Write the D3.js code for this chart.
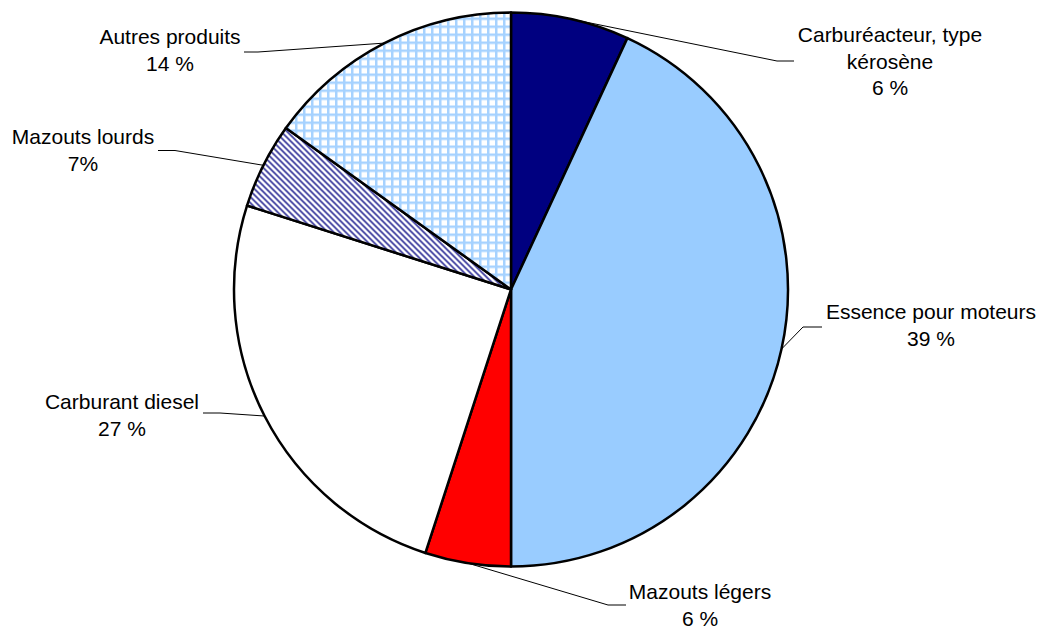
<!DOCTYPE html>
<html>
<head>
<meta charset="utf-8">
<script src="https://cdn.jsdelivr.net/npm/d3@7"></script>
<style>
  body { margin: 0; background: #fff; }
  text { font-family: "Liberation Sans", Arial, sans-serif; font-size: 21px; fill: #000; }
</style>
</head>
<body>
<svg id="chart"></svg>
<script>
const width = 1040, height = 629;

// data
const categories = ["Carburéacteur, type kérosène", "Essence pour moteurs", "Mazouts légers",
    "Carburant diesel", "Mazouts lourds", "Autres produits"];
const shares = [6.9, 43.1, 5.0, 24.9, 5.0, 15.1];           // slice sizes as drawn
const shareLabels = ["6 %", "39 %", "6 %", "27 %", "7%", "14 %"]; // printed labels
const labelLines = [
    ["Carburéacteur, type", "kérosène"],
    ["Essence pour moteurs"],
    ["Mazouts légers"],
    ["Carburant diesel"],
    ["Mazouts lourds"],
    ["Autres produits"]
];

// layout
const cx = 511, cy = 289.5, radius = 277;
const fills = ["#000080", "#99ccff", "#ff0000", "#ffffff", "url(#hatch)", "url(#grid)"];
// label block: center x, first baseline; leader: elbow point and end point
const labelPos = [
    { x: 890, y: 42, elbow: [777, 61], end: [794, 61] },
    { x: 931, y: 319, elbow: [803, 327], end: [822, 327] },
    { x: 700, y: 599, elbow: [608, 605], end: [626, 605] },
    { x: 122, y: 409, elbow: [220, 413], end: [203, 413] },
    { x: 83, y: 144, elbow: [175, 150.5], end: [158, 150.5] },
    { x: 170, y: 44, elbow: [258, 52], end: [244, 52] }
];

const svg = d3.select("#chart")
    .attr("width", width)
    .attr("height", height);

const defs = svg.append("defs");

const hatch = defs.append("pattern")
    .attr("id", "hatch")
    .attr("patternUnits", "userSpaceOnUse")
    .attr("width", 6).attr("height", 6);
hatch.append("rect").attr("width", 6).attr("height", 6).attr("fill", "#fff");
hatch.append("path")
    .attr("d", "M-1,-1 L7,7 M-1,5 L1,7 M5,-1 L7,1")
    .attr("stroke", "#3a3a9c").attr("stroke-width", 1.7);

const grid = defs.append("pattern")
    .attr("id", "grid")
    .attr("patternUnits", "userSpaceOnUse")
    .attr("width", 8).attr("height", 8);
grid.append("rect").attr("width", 8).attr("height", 8).attr("fill", "#fff");
grid.append("path")
    .attr("d", "M1.25,0 V8 M0,1.25 H8")
    .attr("stroke", "#a6d2ff").attr("stroke-width", 2.5);

const data = categories.map((c, i) => ({ name: c, value: shares[i], i }));

const pie = d3.pie().sort(null).value(d => d.value);
const arcs = pie(data);

const arc = d3.arc().innerRadius(0).outerRadius(radius);

// leader lines (under the pie)
const leaders = svg.append("g")
    .attr("fill", "none")
    .attr("stroke", "#000")
    .attr("stroke-width", 1);

arcs.forEach((a, i) => {
    const mid = (a.startAngle + a.endAngle) / 2;
    const p0 = [cx + radius * Math.sin(mid), cy - radius * Math.cos(mid)];
    const lp = labelPos[i];
    leaders.append("path")
        .attr("d", d3.line()([p0, lp.elbow, lp.end]));
});

const g = svg.append("g").attr("transform", `translate(${cx},${cy})`);

g.selectAll("path")
    .data(arcs)
    .join("path")
    .attr("d", arc)
    .attr("fill", (d, i) => fills[i])
    .attr("stroke", "#000")
    .attr("stroke-width", 2.5)
    .attr("stroke-linejoin", "round");

// labels
const labels = svg.append("g").attr("text-anchor", "middle");
labelLines.forEach((lines, i) => {
    const lp = labelPos[i];
    const t = labels.append("text").attr("x", lp.x).attr("y", lp.y);
    lines.concat([shareLabels[i]]).forEach((s, k) => {
        t.append("tspan")
            .attr("x", lp.x)
            .attr("dy", k === 0 ? 0 : 26.5)
            .text(s);
    });
});
</script>
</body>
</html>
